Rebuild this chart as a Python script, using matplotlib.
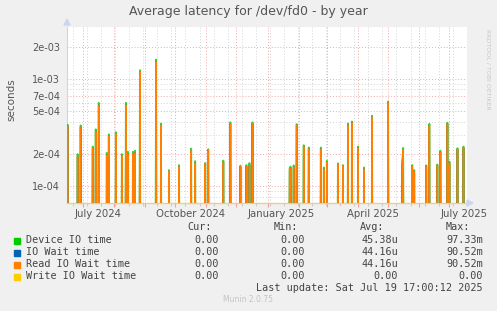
import numpy as np
import pandas as pd
import matplotlib
matplotlib.use("Agg")
import matplotlib.pyplot as plt
import matplotlib.dates as mdates
from matplotlib.patches import Rectangle, Polygon
from matplotlib.ticker import FixedLocator, FuncFormatter, NullFormatter

# Daten (Tageswerte, Rest = 0)
spike_dates = [
    "2024-06-16", "2024-06-26", "2024-06-29", "2024-07-11", "2024-07-14", "2024-07-17",
    "2024-07-25", "2024-07-27", "2024-08-03", "2024-08-09", "2024-08-13", "2024-08-15",
    "2024-08-20", "2024-08-22", "2024-08-27", "2024-09-12", "2024-09-17", "2024-09-25",
    "2024-10-05", "2024-10-17", "2024-10-21", "2024-10-31", "2024-11-03", "2024-11-18",
    "2024-11-25", "2024-12-05", "2024-12-11", "2024-12-14", "2024-12-17",
    "2025-01-23", "2025-01-24", "2025-01-27", "2025-01-30", "2025-02-06", "2025-02-11",
    "2025-02-23", "2025-02-26", "2025-03-01", "2025-03-12", "2025-03-17", "2025-03-22",
    "2025-03-26", "2025-04-01", "2025-04-07", "2025-04-15", "2025-05-01", "2025-05-15",
    "2025-05-16", "2025-05-25", "2025-05-27", "2025-06-08", "2025-06-11", "2025-06-19",
    "2025-06-22", "2025-06-29", "2025-07-01", "2025-07-09", "2025-07-15",
]
read_wait = [
    3.6e-4, 1.9e-4, 3.55e-4, 2.25e-4, 3.25e-4, 5.7e-4,
    1.95e-4, 2.95e-4, 3.1e-4, 1.9e-4, 5.7e-4, 2.0e-4,
    2.0e-4, 2.05e-4, 1.15e-3, 1.44e-3, 3.7e-4, 1.38e-4,
    1.52e-4, 2.15e-4, 1.65e-4, 1.6e-4, 2.15e-4, 1.68e-4,
    3.8e-4, 1.52e-4, 1.53e-4, 1.58e-4, 3.85e-4,
    1.42e-4, 1.48e-4, 1.52e-4, 3.7e-4, 2.35e-4, 2.22e-4,
    2.22e-4, 1.45e-4, 1.68e-4, 1.6e-4, 1.53e-4, 3.72e-4,
    3.9e-4, 2.28e-4, 1.45e-4, 4.4e-4, 6.0e-4, 1.56e-4,
    2.2e-4, 1.53e-4, 1.38e-4, 1.52e-4, 3.7e-4, 1.56e-4,
    2.08e-4, 3.8e-4, 1.65e-4, 2.2e-4, 2.28e-4,
]
device_io = [
    3.75e-4, 2.0e-4, 3.7e-4, 2.35e-4, 3.4e-4, 6.0e-4,
    2.05e-4, 3.05e-4, 3.2e-4, 2.0e-4, 6.0e-4, 2.1e-4,
    2.1e-4, 2.15e-4, 1.21e-3, 1.52e-3, 3.85e-4, 1.42e-4,
    1.58e-4, 2.25e-4, 1.72e-4, 1.65e-4, 2.22e-4, 1.74e-4,
    3.95e-4, 1.56e-4, 1.58e-4, 1.65e-4, 3.95e-4,
    1.48e-4, 1.53e-4, 1.57e-4, 3.8e-4, 2.42e-4, 2.3e-4,
    2.3e-4, 1.5e-4, 1.73e-4, 1.64e-4, 1.58e-4, 3.85e-4,
    4.02e-4, 2.35e-4, 1.5e-4, 4.55e-4, 6.15e-4, 1.6e-4,
    2.28e-4, 1.58e-4, 1.42e-4, 1.57e-4, 3.82e-4, 1.6e-4,
    2.15e-4, 3.92e-4, 1.7e-4, 2.27e-4, 2.35e-4,
]
io_wait = read_wait  # identisch laut Legende

legend_names = ["Device IO time", "IO Wait time", "Read IO Wait time", "Write IO Wait time"]
legend_colors = ["#00cc00", "#0066b3", "#ff8000", "#ffcc00"]
cur_vals = ["0.00", "0.00", "0.00", "0.00"]
min_vals = ["0.00", "0.00", "0.00", "0.00"]
avg_vals = ["45.38u", "44.16u", "44.16u", "0.00"]
max_vals = ["97.33m", "90.52m", "90.52m", "0.00"]

y_major = [1e-4, 2e-4, 5e-4, 7e-4, 1e-3, 2e-3]
y_minor = [8e-5, 9e-5, 3e-4, 4e-4, 6e-4, 8e-4, 9e-4]
x_labels = ["July 2024", "October 2024", "January 2025", "April 2025", "July 2025"]
x_label_dates = ["2024-07-16", "2024-10-16", "2025-01-15", "2025-04-16", "2025-07-16"]

t_start = pd.Timestamp("2024-06-15 10:00")
t_end = pd.Timestamp("2025-07-18 12:00")

# Tagesreihe aufbauen
days = pd.date_range("2024-06-14", "2025-07-19", freq="D")
floor = 1e-7
def daily(values):
    s = pd.Series(floor, index=days)
    s.loc[pd.to_datetime(spike_dates)] = values
    return s

s_dev = daily(device_io)
s_io = daily(io_wait)
s_read = daily(read_wait)
s_write = pd.Series(floor, index=days)

W, H = 497, 311
fig = plt.figure(figsize=(W / 100, H / 100), dpi=100)
fig.patch.set_facecolor("#f0f0f0")
L, R, T, B = 67, 467, 27, 203
ax = fig.add_axes([L / W, 1 - B / H, (R - L) / W, (B - T) / H])
ax.set_facecolor("white")

# breite, halbtransparente Unterlage -> olivfarbene Spitzen wie im Original
ax.fill_between(s_dev.index, floor, s_dev.values, color="#9a8a30", alpha=0.6, lw=0, zorder=2.5)
ax.plot(s_dev.index, s_dev.values, color=legend_colors[0], lw=1.3, alpha=0.8, zorder=3)
ax.plot(s_io.index, s_io.values, color=legend_colors[1], lw=1.0, zorder=4)
ax.plot(s_read.index, s_read.values, color=legend_colors[2], lw=1.1, zorder=5)
ax.plot(s_write.index, s_write.values, color=legend_colors[3], lw=1.0, zorder=6)

ax.set_yscale("log")
ax.set_ylim(7e-5, 3.05e-3)
ax.set_xlim(t_start, t_end)

ax.yaxis.set_major_locator(FixedLocator(y_major))
ax.yaxis.set_minor_locator(FixedLocator(y_minor))
ax.yaxis.set_major_formatter(FuncFormatter(lambda v, p: f"{v:.0e}"))
ax.yaxis.set_minor_formatter(NullFormatter())

ax.xaxis.set_major_locator(mdates.MonthLocator())
ax.xaxis.set_minor_locator(mdates.RRuleLocator(mdates.rrulewrapper(
    mdates.WEEKLY, interval=2, dtstart=pd.Timestamp("2024-06-23").to_pydatetime())))
ax.xaxis.set_major_formatter(NullFormatter())
ax.xaxis.set_minor_formatter(NullFormatter())

dot = (0, (1, 2))
ax.grid(which="minor", color="#d4d4d4", lw=0.7, linestyle=dot, zorder=1)
ax.grid(which="major", color="#f0a8a8", lw=0.7, linestyle=dot, zorder=2)
ax.set_axisbelow(True)

ax.tick_params(axis="y", which="both", length=0, labelsize=7, colors="#555555", pad=5)
ax.tick_params(axis="x", which="major", length=3, color="#f0a0a0", width=0.8)
ax.tick_params(axis="x", which="minor", length=2, color="#cccccc", width=0.8)

for sp in ["top", "right"]:
    ax.spines[sp].set_visible(False)
ax.spines["left"].set_color("#d0d4f4")
ax.spines["bottom"].set_color("#e8d090")
ax.spines["left"].set_linewidth(0.8)
ax.spines["bottom"].set_linewidth(1.0)

for lab, d in zip(x_labels, x_label_dates):
    ax.text(mdates.date2num(pd.Timestamp(d)), -0.035, lab, transform=ax.get_xaxis_transform(),
            ha="center", va="top", fontsize=7.3, color="#555555")

# Achsenpfeile
fig.patches.append(Polygon([[L / W - 3 / W, 1 - 25 / H], [L / W + 3 / W, 1 - 25 / H], [L / W, 1 - 19 / H]],
                           closed=True, color="#d0d4f4", transform=fig.transFigure))
fig.patches.append(Polygon([[467 / W, 1 - 200 / H], [467 / W, 1 - 206 / H], [473 / W, 1 - 203 / H]],
                           closed=True, color="#d0d4f4", transform=fig.transFigure))

fig.text(248 / W, 1 - 12 / H, "Average latency for /dev/fd0 - by year", ha="center", va="center",
         fontsize=9, color="#555555")
fig.text(11 / W, 1 - 100 / H, "seconds", rotation=90, ha="center", va="center", fontsize=7.5, color="#555555")
fig.text(488 / W, 1 - 29 / H, "RRDTOOL / TOBI OETIKER", rotation=270, ha="center", va="top",
         fontsize=4.5, color="#c8c8c8")

# Legende
mono = "DejaVu Sans Mono"
fs = 7.3
tc = "#444444"
for x, txt in zip([212, 298, 384, 470], ["Cur:", "Min:", "Avg:", "Max:"]):
    fig.text(x / W, 1 - 227 / H, txt, ha="right", va="center", family=mono, fontsize=fs, color=tc)
rows_y = [240, 252, 264, 276]
for i, y in enumerate(rows_y):
    fig.patches.append(Rectangle((14 / W, 1 - (y + 3.5) / H), 6 / W, 6 / H, color=legend_colors[i],
                                 transform=fig.transFigure))
    fig.text(26 / W, 1 - y / H, legend_names[i], ha="left", va="center", family=mono, fontsize=fs, color=tc)
    for x, col in zip([219, 305, 398, 483], [cur_vals, min_vals, avg_vals, max_vals]):
        fig.text(x / W, 1 - y / H, col[i], ha="right", va="center", family=mono, fontsize=fs, color=tc)
fig.text(483 / W, 1 - 288 / H, "Last update: Sat Jul 19 17:00:12 2025", ha="right", va="center",
         family=mono, fontsize=fs, color=tc)
fig.text(248 / W, 1 - 300 / H, "Munin 2.0.75", ha="center", va="center", fontsize=5.5, color="#c4c4c4")

fig.savefig("out.png", dpi=100, facecolor=fig.get_facecolor())
